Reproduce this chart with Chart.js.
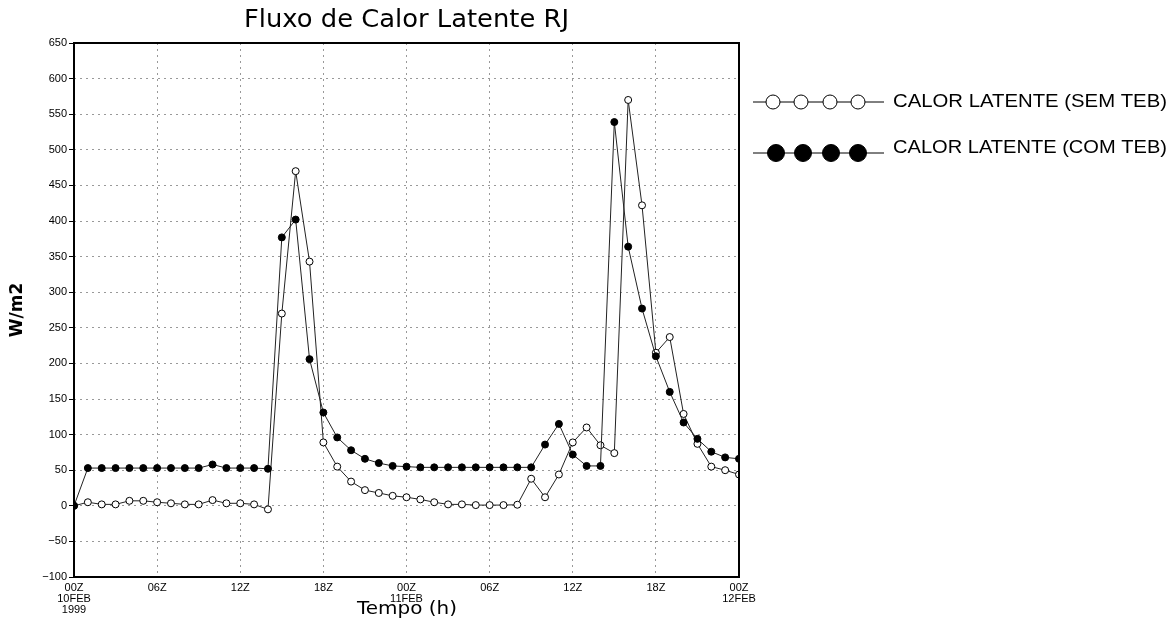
<!DOCTYPE html>
<html lang="pt">
<head>
  <meta charset="UTF-8" />
  <title>Fluxo de Calor Latente RJ</title>
  <script src="https://cdn.jsdelivr.net/npm/chart.js"></script>
  <style>
    body {
      margin: 0;
      background: #fff;
    }

    .wrap {
      width: 1174px;
      height: 625px;
      position: relative;
    }
  </style>
</head>
<body>
  <div class="wrap">
    <canvas id="calorChart"></canvas>
  </div>

  <script>
    // horas desde 00Z 10FEB 1999
    const hours = [0, 1, 2, 3, 4, 5, 6, 7, 8, 9, 10, 11, 12, 13, 14, 15, 16, 17, 18, 19, 20, 21, 22, 23, 24,
      25, 26, 27, 28, 29, 30, 31, 32, 33, 34, 35, 36, 37, 38, 39, 40, 41, 42, 43, 44, 45, 46, 47, 48];

    const semTeb = [0, 5, 2, 2, 7, 7, 5, 3.5, 2, 2, 8, 3.5, 3.5, 2, -5, 270, 470, 343, 89, 55, 34, 22, 18, 14, 12,
      9, 5, 2, 2, 1, 1, 1, 1.5, 38, 12, 44, 89, 110, 85, 74, 570, 422, 215, 237, 129, 87, 55, 50, 44];

    const comTeb = [0, 53, 53, 53, 53, 53, 53, 53, 53, 53, 58, 53, 53, 53, 52, 377, 402, 206, 131, 96, 78, 66, 60, 56, 55,
      54, 54, 54, 54, 54, 54, 54, 54, 54, 86, 115, 72, 56, 56, 539, 364, 277, 210, 160, 117, 94, 76, 68, 66];

    const xTickLabels = {
      0: ['00Z', '10FEB', '1999'],
      6: ['06Z'],
      12: ['12Z'],
      18: ['18Z'],
      24: ['00Z', '11FEB'],
      30: ['06Z'],
      36: ['12Z'],
      42: ['18Z'],
      48: ['00Z', '12FEB']
    };

    const seriesNames = ['CALOR LATENTE (SEM TEB)', 'CALOR LATENTE (COM TEB)'];

    function toPoints(values) {
      return values.map((v, i) => ({ x: hours[i], y: v }));
    }

    // titulo, rotulos dos eixos, moldura e legenda
    const decor = {
      id: 'decor',
      afterDraw(chart) {
        const ctx = chart.ctx;
        const a = chart.chartArea;
        ctx.save();

        ctx.strokeStyle = '#000';
        ctx.lineWidth = 2;
        ctx.strokeRect(a.left, a.top, a.right - a.left, a.bottom - a.top);

        ctx.fillStyle = '#000';
        ctx.textAlign = 'center';
        ctx.textBaseline = 'middle';

        // titulo
        ctx.font = '24px "DejaVu Sans"';
        let w = ctx.measureText('Fluxo de Calor Latente RJ').width;
        ctx.save();
        ctx.translate((a.left + a.right) / 2, 21);
        ctx.scale(325 / w, 1);
        ctx.fillText('Fluxo de Calor Latente RJ', 0, 0);
        ctx.restore();

        // eixo x
        ctx.font = '17px "DejaVu Sans"';
        w = ctx.measureText('Tempo (h)').width;
        ctx.save();
        ctx.translate(407, 610);
        ctx.scale(100 / w, 1);
        ctx.fillText('Tempo (h)', 0, 0);
        ctx.restore();

        // eixo y
        ctx.save();
        ctx.translate(18, (a.top + a.bottom) / 2);
        ctx.rotate(-Math.PI / 2);
        ctx.font = 'bold 17px "DejaVu Sans"';
        ctx.fillText('W/m2', 0, 0);
        ctx.restore();

        // legenda
        const rows = [
          { y: 102, ty: 102, open: true, r: 7, xs: [773, 801, 830, 858] },
          { y: 153, ty: 148, open: false, r: 8.5, xs: [776, 803, 831, 858] }
        ];
        rows.forEach((row, k) => {
          ctx.strokeStyle = '#000';
          ctx.lineWidth = 1;
          ctx.beginPath();
          ctx.moveTo(753, row.y);
          ctx.lineTo(884, row.y);
          ctx.stroke();
          row.xs.forEach(cx => {
            ctx.beginPath();
            ctx.arc(cx, row.y, row.r, 0, Math.PI * 2);
            ctx.fillStyle = row.open ? '#fff' : '#000';
            ctx.fill();
            ctx.stroke();
          });
          ctx.fillStyle = '#000';
          ctx.textAlign = 'left';
          ctx.font = '19px "Liberation Sans"';
          const tw = ctx.measureText(seriesNames[k]).width;
          ctx.save();
          ctx.translate(893, row.ty);
          ctx.scale(274 / tw, 1);
          ctx.fillText(seriesNames[k], 0, 0);
          ctx.restore();
        });

        ctx.restore();
      }
    };

    const ctx = document.getElementById('calorChart').getContext('2d');

    const calorChart = new Chart(ctx, {
      type: 'line',
      data: {
        datasets: [
          {
            label: seriesNames[1],
            data: toPoints(comTeb),
            borderColor: '#222',
            borderWidth: 1,
            pointRadius: 3.5,
            pointBackgroundColor: '#000',
            pointBorderColor: '#000',
            pointBorderWidth: 1,
            tension: 0
          },
          {
            label: seriesNames[0],
            data: toPoints(semTeb),
            borderColor: '#222',
            borderWidth: 1,
            pointRadius: 3.5,
            pointBackgroundColor: '#fff',
            pointBorderColor: '#000',
            pointBorderWidth: 1,
            tension: 0
          }
        ]
      },
      options: {
        responsive: true,
        maintainAspectRatio: false,
        animation: false,
        layout: {
          padding: { top: 43, right: 435, left: 0, bottom: 0 }
        },
        plugins: {
          legend: { display: false },
          title: { display: false },
          tooltip: { enabled: false }
        },
        scales: {
          x: {
            type: 'linear',
            min: 0,
            max: 48,
            afterFit(scale) { scale.height = 48; },
            grid: {
              color: '#999',
              drawTicks: false
            },
            border: { display: false, dash: [2, 4] },
            ticks: {
              stepSize: 6,
              autoSkip: false,
              maxRotation: 0,
              padding: 5,
              color: '#000',
              font: { family: 'Liberation Sans', size: 11, lineHeight: 1.0 },
              callback: v => xTickLabels[v] || ''
            }
          },
          y: {
            min: -100,
            max: 650,
            afterFit(scale) { scale.width = 74; },
            grid: {
              color: '#999',
              tickLength: 5,
              tickColor: '#000',
              tickBorderDash: []
            },
            border: { display: false, dash: [2, 4] },
            ticks: {
              stepSize: 50,
              padding: 2,
              color: '#000',
              font: { family: 'Liberation Sans', size: 11 },
              callback: v => String(v).replace('-', '\u2212')
            }
          }
        }
      },
      plugins: [decor]
    });
  </script>
</body>
</html>
